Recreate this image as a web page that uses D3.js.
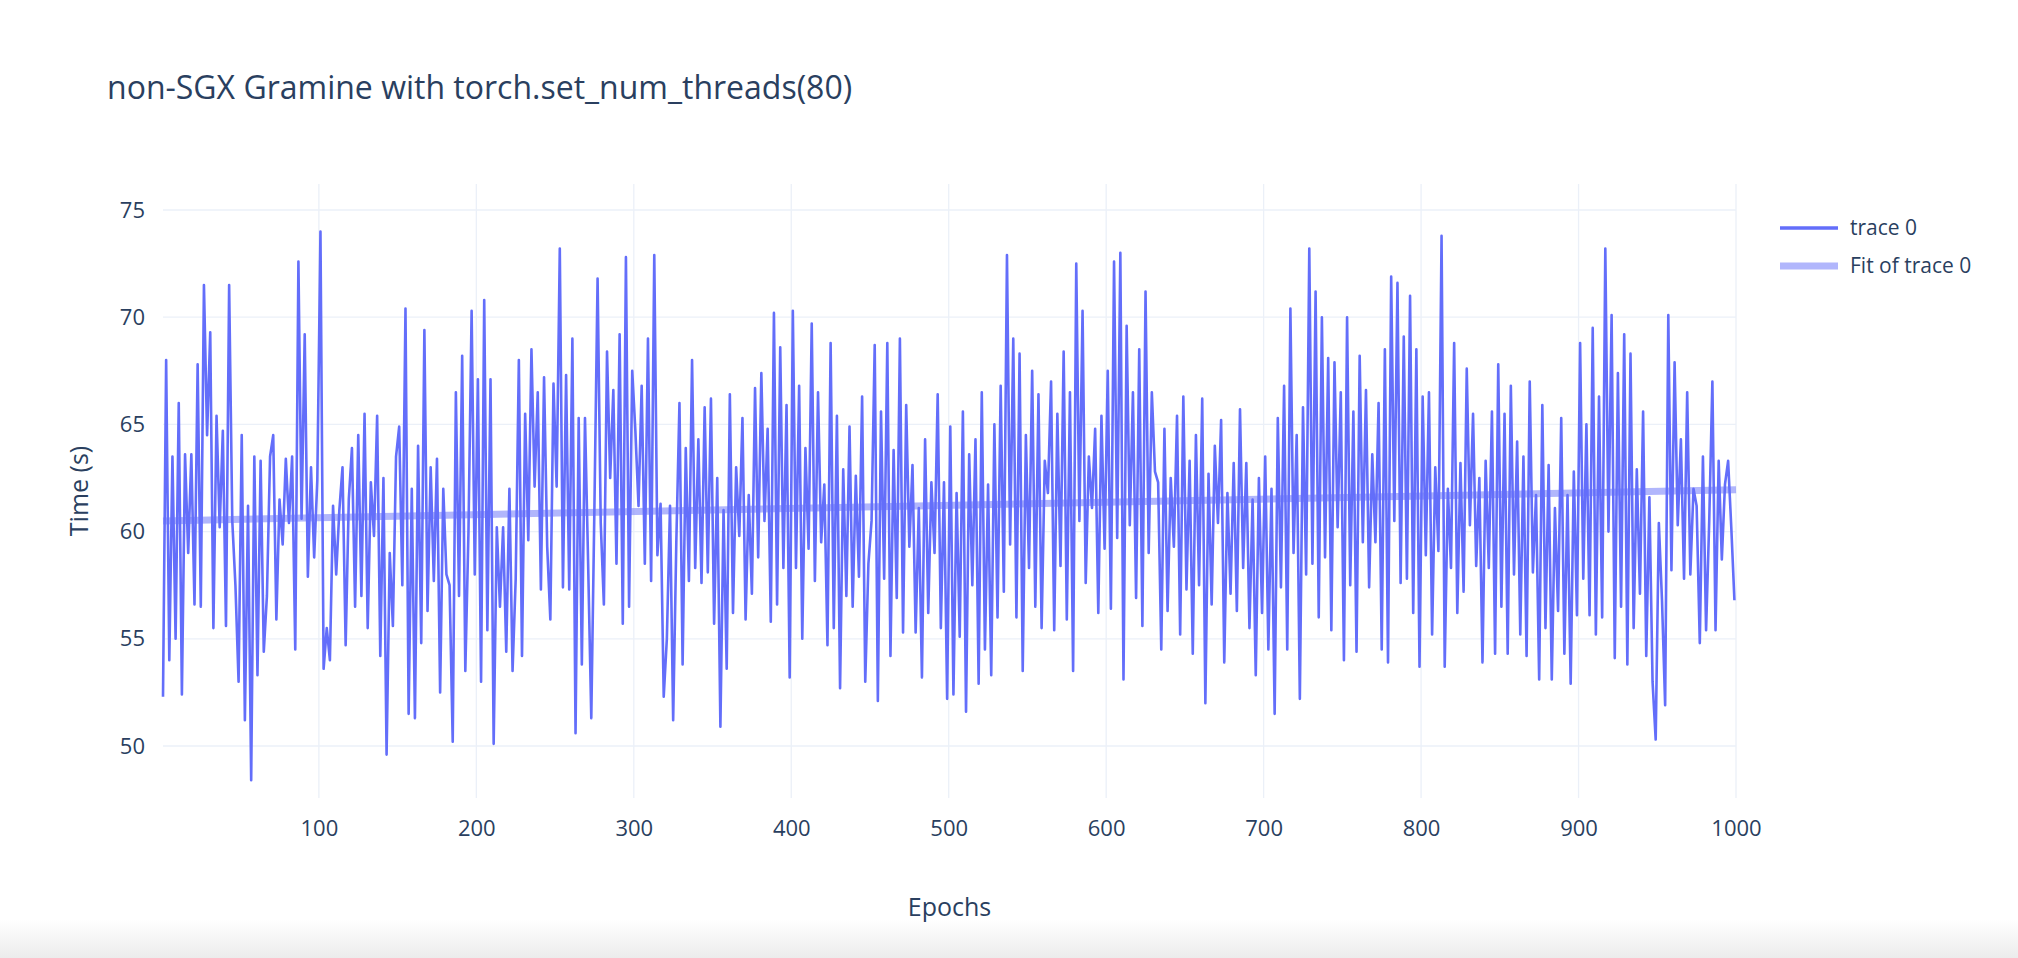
<!DOCTYPE html><html><head><meta charset="utf-8"><script src="https://cdn.jsdelivr.net/npm/d3@7"></script>
<style>body{margin:0;background:#fff;overflow:hidden}text{font-family:"Open Sans",sans-serif}</style></head><body><svg id="c" width="2018" height="958"></svg>
<script>
const epochStep = 2;
const times = [
52.3,68,54,63.5,55,66,52.4,63.6,59,63.6,56.6,67.8,56.5,71.5,64.5,69.3,55.5,65.4,60.2,64.7,55.6,71.5,60.5,57.5,53,64.5,51.2,61.2,48.4,63.5,53.3,63.3,54.4,57,63.5,64.5,55.9,61.5,59.4,63.4,60.4,63.5,54.5,72.6,60.6,69.2,57.9,63,58.8,62.4,
74,53.6,55.5,54,61.2,58,61,63,54.7,61.5,63.9,56.5,64.5,57,65.5,55.5,62.3,59.8,65.4,54.2,62.5,49.6,59,55.6,63.5,64.9,57.5,70.4,51.5,62,51.3,64,54.8,69.4,56.3,63,57.7,63.4,52.5,62,58,57.5,50.2,66.5,57,68.2,53.5,60,70.3,58,
67.1,53,70.8,55.4,67.1,50.1,60.2,56.5,60.2,54.4,62,53.5,57.8,68,54.2,65.5,59.6,68.5,62.1,66.5,57.3,67.2,59.3,55.9,66.9,62.1,73.2,57.4,67.3,57.3,69,50.6,65.3,53.8,65.3,58.5,51.3,61.2,71.8,60.4,56.6,68.4,62.5,66.6,58.5,69.2,55.7,72.8,56.5,67.5,
64.7,61.2,66.8,58.5,69,57.7,72.9,58.9,61.3,52.3,55,61.2,51.2,59.5,66,53.8,63.9,57.7,68,58.3,64.3,57.6,65.8,58.1,66.2,55.7,62.5,50.9,61,53.6,66.4,56.2,63,59.8,65.3,55.9,61.7,57.1,66.7,58.8,67.4,60.5,64.8,55.8,70.2,56.6,68.6,58.3,65.9,53.2,
70.3,58.3,66.8,55,63.9,59.2,69.7,57.7,66.5,59.5,62.2,54.7,68.8,55.5,65.4,52.7,62.9,57,64.9,56.5,62.6,57.9,66.3,53,58.5,60.5,68.7,52.1,65.6,57.8,68.8,54.2,63.8,56.9,69,55.3,65.9,59.3,63.1,55.3,61.1,53.2,64.3,56.2,62.3,59,66.4,55.5,62.3,52.2,
64.9,52.4,61.8,55.1,65.6,51.6,63.6,57.5,64.3,52.9,66.5,54.5,62.2,53.3,65,56,66.8,57.2,72.9,59.4,69,56,68.3,53.5,64.5,58.3,67.5,56.5,66.4,55.5,63.3,61.8,67,55.4,65.5,58.4,68.4,55.9,66.5,53.5,72.5,60.5,70.3,57.6,63.5,61.1,64.8,56.2,65.4,59.2,
67.5,56.4,72.6,59.7,73,53.1,69.6,60.3,66.5,56.9,68.5,55.6,71.2,59,66.5,62.8,62.3,54.5,64.8,56.3,62.5,59.3,65.4,55.2,66.3,57.3,63.3,54.3,64.5,57.5,66.2,52,62.7,56.6,64,60.4,65.2,53.9,61.8,57.1,63.2,56.3,65.7,58.3,63.2,55.5,61.5,53.3,62.5,56.2,
63.5,54.5,62,51.5,65.3,57.4,66.8,54.5,70.4,59,64.5,52.2,65.8,58,73.2,58.5,71.2,56,70,58.8,68.1,55.4,67.9,60.2,66.5,54,70,57.5,65.6,54.4,68.2,59.5,66.6,57.4,63.6,59.5,66,54.5,68.5,53.9,71.9,60.5,71.6,57.6,69.1,57.8,71,56.2,68.5,53.7,
66.3,58.9,66.5,55.2,63,59.1,73.8,53.7,62,58.3,68.8,56.2,63.2,57.2,67.6,60.3,65.5,58.4,62.5,53.9,63.3,58.3,65.6,54.3,67.8,56.5,65.5,54.3,66.8,58,64.2,55.2,63.5,54.2,67,58.1,61.7,53.1,65.9,55.5,63.1,53.1,61.1,56.3,65.3,54.3,61.7,52.9,62.8,56.1,
68.8,57.8,65,56.1,69.5,55.2,66.3,56,73.2,60,70.1,54.1,67.4,56.5,69.2,53.8,68.3,55.5,62.9,57.1,65.6,54.2,61.6,53,50.3,60.4,56.8,51.9,70.1,58.2,67.9,60.3,64.3,57.8,66.5,58,62,61.2,54.8,63.5,55.4,60.5,67,55.4,63.3,58.7,62.2,63.3,60.2,56.8];
const fitEpochs = [1, 1000];
const fitTimes = [60.5, 61.95];
const xTicks = [100,200,300,400,500,600,700,800,900,1000];
const yTicks = [50,55,60,65,70,75];
const legendLabels = ["trace 0","Fit of trace 0"];

const svg = d3.select("#c");
const defs = svg.append("defs");
const g0 = defs.append("linearGradient").attr("id","bg").attr("x1",0).attr("y1",0).attr("x2",0).attr("y2",1);
g0.append("stop").attr("offset","0").attr("stop-color","#fff");
g0.append("stop").attr("offset","1").attr("stop-color","#ececec");
svg.append("rect").attr("x",0).attr("y",920).attr("width",2018).attr("height",38).attr("fill","url(#bg)");

const L=163,R=1736,T=184,B=798;
const x = d3.scaleLinear().domain([1,1000]).range([L,R]);
const y = d3.scaleLinear().domain([50,75]).range([746,210]);
const col="#2a3f5f";
const grid = svg.append("g");
xTicks.forEach(t=>grid.append("line").attr("x1",x(t)).attr("x2",x(t)).attr("y1",T).attr("y2",B).attr("stroke","#ebf0f8").attr("stroke-width",1.3));
yTicks.forEach(t=>grid.append("line").attr("x1",L).attr("x2",R).attr("y1",y(t)).attr("y2",y(t)).attr("stroke","#ebf0f8").attr("stroke-width",1.3));

const xa = svg.append("g").attr("transform",`translate(0,${B})`).call(d3.axisBottom(x).tickValues(xTicks).tickFormat(d3.format("d")).tickSize(0).tickPadding(18));
const ya = svg.append("g").attr("transform",`translate(${L},0)`).call(d3.axisLeft(y).tickValues(yTicks).tickSize(0).tickPadding(18));
[xa,ya].forEach(a=>{a.select(".domain").remove();a.selectAll("text").attr("fill",col).style("font-size","22px").style("font-family","Open Sans");});
xa.selectAll("text").attr("dy","0.9em");

const data = times.map((v,i)=>({e:1+i*epochStep,v}));
const line = d3.line().x(d=>x(d.e)).y(d=>y(d.v));
svg.append("path").datum(fitEpochs.map((e,i)=>({e,v:fitTimes[i]}))).attr("d",line).attr("fill","none").attr("stroke","rgba(99,110,250,0.5)").attr("stroke-width",7);
svg.append("path").datum(data).attr("d",line).attr("fill","none").attr("stroke","#636efa").attr("stroke-width",2.6).attr("stroke-linejoin","round");

svg.append("text").attr("x",107).attr("y",99).attr("fill",col).style("font-size","32px").text("non-SGX Gramine with torch.set_num_threads(80)");
svg.append("text").attr("x",(L+R)/2).attr("y",916).attr("text-anchor","middle").attr("fill",col).style("font-size","25px").text("Epochs");
svg.append("text").attr("transform","translate(88,491) rotate(-90)").attr("text-anchor","middle").attr("fill",col).style("font-size","25px").text("Time (s)");

const lg = svg.append("g");
legendLabels.forEach((s,i)=>{
  const yy = 228+i*38;
  lg.append("line").attr("x1",1780).attr("x2",1838).attr("y1",yy).attr("y2",yy).attr("stroke",i?"rgba(99,110,250,0.5)":"#636efa").attr("stroke-width",i?7:3.5);
  lg.append("text").attr("x",1850).attr("y",yy+7).attr("fill",col).style("font-size","21px").text(s);
});
</script></body></html>
